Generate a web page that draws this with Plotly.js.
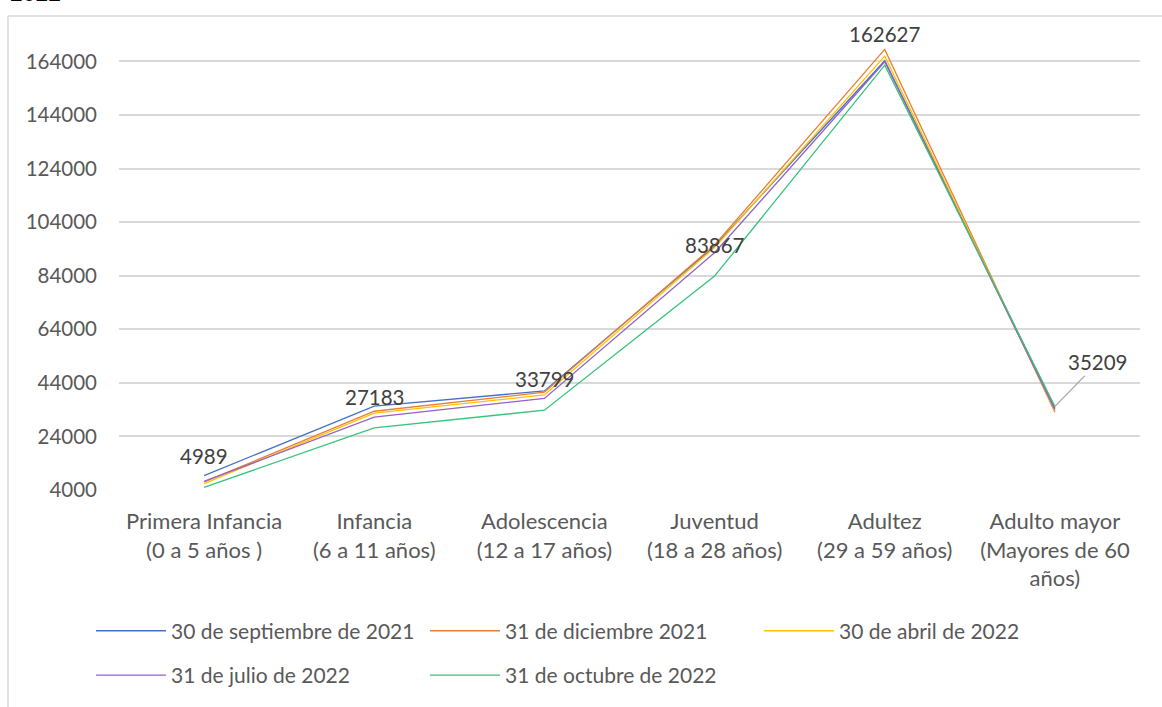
<!DOCTYPE html>
<html>
<head>
<meta charset="utf-8">
<script src="https://cdn.plot.ly/plotly-3.0.1.min.js"></script>
<style>
  body { margin: 0; background: #fff; }
  #chart { width: 1162px; height: 707px; }
</style>
</head>
<body>
<div id="chart"></div>
<script>
// categories (age groups)
var grupos = [
  "Primera Infancia<br>(0 a 5 años )",
  "Infancia<br>(6 a 11 años)",
  "Adolescencia<br>(12 a 17 años)",
  "Juventud<br>(18 a 28 años)",
  "Adultez<br>(29 a 59 años)",
  "Adulto mayor<br>(Mayores de 60<br>años)"
];

// one array per cut-off date
var sep2021 = [9400, 35300, 41000, 95000, 164300, 34500];
var dic2021 = [7000, 33400, 40500, 95500, 168500, 33000];
var abr2022 = [6400, 32700, 39500, 94500, 166000, 33500];
var jul2022 = [7200, 31200, 38200, 92600, 163900, 34000];
var oct2022 = [4989, 27183, 33799, 83867, 162627, 35209];

var seriesNames = [
  "30 de septiembre de 2021",
  "31 de diciembre 2021",
  "30 de abril de 2022",
  "31 de julio de 2022",
  "31 de octubre de 2022"
];
var seriesColors = ["#4472C4", "#ED7D31", "#FFC000", "#9461C7", "#35C47B"];

var allSeries = [sep2021, dic2021, abr2022, jul2022, oct2022];

var data = allSeries.map(function (vals, i) {
  return {
    x: grupos,
    y: vals,
    name: seriesNames[i],
    type: "scatter",
    mode: "lines",
    line: { color: seriesColors[i], width: 1.3 },
    legend: i < 3 ? "legend" : "legend2"
  };
});

var font = { family: "Lato, 'Open Sans', sans-serif", size: 20, color: "#595959" };
var labelFont = { family: font.family, size: 20.5, color: "#404040" };

// data labels on the last series (31 de octubre de 2022)
var annotations = oct2022.map(function (v, i) {
  if (i === 5) {
    return {
      x: grupos[i], y: v, text: String(v),
      showarrow: true, arrowhead: 0, arrowwidth: 1.3, arrowcolor: "#A6A6A6",
      ax: 43, ay: -44, standoff: 0,
      font: labelFont
    };
  }
  return {
    x: grupos[i], y: v, text: String(v),
    showarrow: false, yshift: 31,
    font: labelFont
  };
});

// cut-off title above the frame
annotations.push({
  xref: "paper", yref: "paper", x: -0.1087, y: 1.035,
  xanchor: "left", yanchor: "bottom", showarrow: false,
  text: "2022", font: { family: font.family, size: 22, color: "#000" }
});

var legendBase = {
  orientation: "h",
  x: -0.0274,
  xanchor: "left", yanchor: "middle",
  entrywidth: 249, entrywidthmode: "pixels",
  itemwidth: 70,
  font: { family: font.family, size: 21, color: "#595959" }
};

var layout = {
  width: 1162,
  height: 707,
  margin: { l: 119, r: 22, t: 24, b: 216 },
  paper_bgcolor: "#fff",
  plot_bgcolor: "#fff",
  font: font,
  showlegend: true,
  xaxis: {
    type: "category",
    range: [-0.5, 5.5],
    showgrid: false,
    zeroline: false,
    showline: false,
    ticks: "",
    ticklabelstandoff: 16,
    tickfont: { family: font.family, size: 22, color: "#595959" },
    automargin: false
  },
  yaxis: {
    range: [4000, 178000],
    tickvals: [4000, 24000, 44000, 64000, 84000, 104000, 124000, 144000, 164000],
    ticktext: ["4000", "24000", "44000", "64000", "84000", "104000", "124000", "144000", "164000"],
    showgrid: true,
    gridcolor: "#D9D9D9",
    gridwidth: 1.5,
    zeroline: false,
    showline: false,
    ticks: "",
    ticklabelstandoff: 21,
    tickfont: { family: font.family, size: 20.5, color: "#595959" },
    automargin: false
  },
  legend: Object.assign({}, legendBase, { y: -0.3 }),
  legend2: Object.assign({}, legendBase, { y: -0.395 }),
  annotations: annotations,
  shapes: [
    { type: "line", xref: "paper", yref: "paper", x0: -0.1087, x1: 1.03, y0: 1.017, y1: 1.017,
      line: { color: "#D9D9D9", width: 1.5 } },
    { type: "line", xref: "paper", yref: "paper", x0: -0.1087, x1: -0.1087, y0: 1.017, y1: -0.47,
      line: { color: "#D9D9D9", width: 1.5 } }
  ]
};

Plotly.newPlot("chart", data, layout, { displayModeBar: false });
</script>
</body>
</html>
